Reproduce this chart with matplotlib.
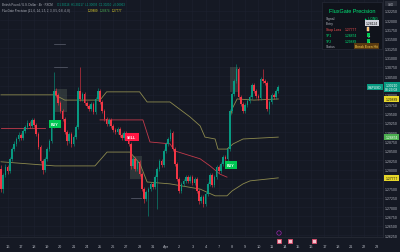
import matplotlib.pyplot as plt
from matplotlib.patches import Rectangle, Circle

plt.rcParams['font.family'] = ['Liberation Sans', 'DejaVu Sans']

BG = '#151924'
UP = '#089981'
DOWN = '#f23645'
OLIVE = '#8d8a4e'
RED_LINE = '#c23a4b'
TXT = '#b2b5be'

# GBPUSD 4h candles
closes = [
    1.2748, 1.2786, 1.2807, 1.2796, 1.2829, 1.2855, 1.2869, 1.2882, 1.2893, 1.2885,
    1.2903, 1.2914, 1.2925, 1.2917, 1.2933, 1.2920, 1.2895, 1.2861, 1.2823, 1.2799,
    1.2829, 1.2855, 1.2877, 1.2917, 1.3010, 1.3000, 1.2978, 1.2957, 1.2936, 1.2901,
    1.2877, 1.2895, 1.2869, 1.2887, 1.2914, 1.3010, 1.2989, 1.3002, 1.2978, 1.2970,
    1.2962, 1.2976, 1.2954, 1.2989, 1.3010, 1.2981, 1.2957, 1.2936, 1.2922, 1.2933,
    1.2917, 1.2906, 1.2901, 1.2909, 1.2893, 1.2885, 1.2898, 1.2887, 1.2869, 1.2810,
    1.2829, 1.2802, 1.2821, 1.2788, 1.2748, 1.2722, 1.2740, 1.2748, 1.2762, 1.2754,
    1.2780, 1.2802, 1.2823, 1.2812, 1.2850, 1.2869, 1.2882, 1.2898, 1.2855, 1.2815,
    1.2775, 1.2743, 1.2762, 1.2770, 1.2780, 1.2770, 1.2780, 1.2764, 1.2775, 1.2743,
    1.2716, 1.2727, 1.2708, 1.2735, 1.2762, 1.2786, 1.2759, 1.2780, 1.2807, 1.2796,
    1.2815, 1.2834, 1.2829, 1.2855, 1.2957, 1.3002, 1.3037, 1.3069, 1.2994, 1.2976,
    1.2957, 1.2973, 1.2984, 1.2994, 1.3026, 1.3010, 1.2997, 1.2992, 1.3042, 1.3037,
    1.3032, 1.2962, 1.2981, 1.3000, 1.2994, 1.3010, 1.3021,
]
highs = [
    1.2812, 1.2791, 1.2815, 1.2812, 1.2834, 1.2861, 1.2877, 1.2887, 1.2901, 1.2898,
    1.2909, 1.2920, 1.2933, 1.2930, 1.2938, 1.2938, 1.2925, 1.2901, 1.2866, 1.2829,
    1.2834, 1.2861, 1.2882, 1.2922, 1.3061, 1.3018, 1.3005, 1.2984, 1.2962, 1.2941,
    1.2906, 1.2901, 1.2901, 1.2893, 1.2920, 1.3021, 1.3075, 1.3008, 1.3008, 1.2984,
    1.2976, 1.2981, 1.2981, 1.2994, 1.3018, 1.3016, 1.2986, 1.2962, 1.2941, 1.2938,
    1.2938, 1.2922, 1.2912, 1.2914, 1.2914, 1.2898, 1.2903, 1.2903, 1.2893, 1.2874,
    1.2834, 1.2834, 1.2826, 1.2826, 1.2794, 1.2754, 1.2746, 1.2754, 1.2767, 1.2767,
    1.2786, 1.2807, 1.2829, 1.2829, 1.2855, 1.2874, 1.2887, 1.2909, 1.2903, 1.2861,
    1.2821, 1.2780, 1.2767, 1.2775, 1.2786, 1.2786, 1.2786, 1.2786, 1.2780, 1.2780,
    1.2748, 1.2732, 1.2732, 1.2740, 1.2767, 1.2791, 1.2791, 1.2786, 1.2812, 1.2812,
    1.2821, 1.2839, 1.2839, 1.2861, 1.2962, 1.3008, 1.3042, 1.3083, 1.3075, 1.3000,
    1.2981, 1.2978, 1.2989, 1.3000, 1.3032, 1.3032, 1.3016, 1.3002, 1.3048, 1.3069,
    1.3042, 1.3037, 1.2986, 1.3005, 1.3005, 1.3016, 1.3026,
]
lows = [
    1.2740, 1.2738, 1.2780, 1.2788, 1.2791, 1.2823, 1.2850, 1.2863, 1.2877, 1.2879,
    1.2879, 1.2898, 1.2909, 1.2912, 1.2912, 1.2914, 1.2890, 1.2855, 1.2818, 1.2788,
    1.2794, 1.2823, 1.2850, 1.2871, 1.2912, 1.2994, 1.2973, 1.2952, 1.2930, 1.2895,
    1.2866, 1.2871, 1.2861, 1.2863, 1.2882, 1.2909, 1.2984, 1.2984, 1.2973, 1.2965,
    1.2957, 1.2957, 1.2949, 1.2949, 1.2984, 1.2976, 1.2952, 1.2930, 1.2917, 1.2917,
    1.2912, 1.2901, 1.2895, 1.2895, 1.2887, 1.2879, 1.2879, 1.2882, 1.2863, 1.2802,
    1.2804, 1.2796, 1.2796, 1.2783, 1.2743, 1.2711, 1.2716, 1.2676, 1.2743, 1.2748,
    1.2748, 1.2695, 1.2796, 1.2807, 1.2807, 1.2845, 1.2863, 1.2877, 1.2850, 1.2810,
    1.2770, 1.2738, 1.2738, 1.2756, 1.2764, 1.2764, 1.2764, 1.2759, 1.2759, 1.2738,
    1.2708, 1.2711, 1.2700, 1.2703, 1.2730, 1.2756, 1.2754, 1.2754, 1.2775, 1.2791,
    1.2791, 1.2810, 1.2823, 1.2823, 1.2850, 1.2952, 1.2997, 1.3032, 1.2989, 1.2970,
    1.2952, 1.2952, 1.2968, 1.2978, 1.2989, 1.3005, 1.2992, 1.2986, 1.2986, 1.3032,
    1.3026, 1.2957, 1.2949, 1.2976, 1.2989, 1.2989, 1.3005,
]
first_open = 1.2802
opens = [first_open] + closes[:-1]

# FluxGate lines: (bar index, price) break points
upper_x = [0, 24.5, 29, 45, 48, 63, 66.4, 76.8, 85.9, 90.5, 92.7, 97.3, 98.6, 102.7, 105.5, 110, 126]
upper_y = [1.3000, 1.3000, 1.2986, 1.2986, 1.3008, 1.3008, 1.2981, 1.2981, 1.2941, 1.2917,
           1.2887, 1.2882, 1.2855, 1.2855, 1.2869, 1.2882, 1.2887]
trail_x = [104, 105, 107.3, 115, 126]
trail_y = [1.2934, 1.2962, 1.2989, 1.2986, 1.2989]
lower_x = [0, 24.5, 42.7, 48.2, 58.6, 63.2, 66.4, 76.8, 90.5, 97.3, 102.7, 105, 110, 113.2, 126]
lower_y = [1.2821, 1.2810, 1.2810, 1.2847, 1.2847, 1.2815, 1.2767, 1.2762, 1.2748, 1.2730,
           1.2730, 1.2743, 1.2762, 1.2770, 1.2778]
red1_x = [0, 20]
red1_y = [1.2912, 1.2912]
red2_x = [45, 64.5, 67.7, 76.8, 79, 90.5, 95, 99.5, 102.7]
red2_y = [1.2933, 1.2933, 1.2874, 1.2869, 1.2850, 1.2829, 1.2810, 1.2788, 1.2780]

signals = [(24.5, 1.2922, 'BUY', '#00c853'), (59.5, 1.2887, 'SELL', '#ff1744'),
           (104.5, 1.2812, 'BUY', '#00c853')]
trade_boxes = [(24, 30, 1.3016, 1.2954), (58.6, 64, 1.2837, 1.2775), (104, 107.5, 1.3075, 1.3008)]
target_marks = [(24, 29, 1.3136), (24, 30, 1.3075), (59, 63.5, 1.2724)]

day_labels = ['16', '17', '18', '19', '20', '21', '24', '25', '26', '27', '28', '31', 'Apr',
              '2', '3', '4', '7', '8', '9', '10', '11', '14', '15', '16', '17', '18', '21', '22', '23']
price_ticks = [1.26250 + 0.0025 * k for k in range(25)]

tp2, tp1, stop = 1.29889, 1.28874, 1.27777
entry = 1.28124

fig = plt.figure(figsize=(4, 2.53), dpi=100, facecolor=BG)
ax = fig.add_axes([0, 15 / 253, 383 / 400, 238 / 253], facecolor=BG)
ax.set_xlim(-0.45, 173.6)
ax.set_ylim(1.26199, 1.32563)

for s in ['top', 'left']:
    ax.spines[s].set_visible(False)
for s in ['right', 'bottom']:
    ax.spines[s].set_color('#2a2e39')
    ax.spines[s].set_linewidth(0.5)

# hide tick labels covered by the price tags
tag_prices = [closes[-1], tp2, tp1, stop]
tick_text = []
for p in price_ticks:
    near = any(abs(p - t) < 0.0011 for t in tag_prices)
    tick_text.append('' if near else '%.5f' % p)
ax.set_yticks(price_ticks)
ax.set_yticklabels(tick_text)
ax.yaxis.tick_right()
ax.tick_params(axis='y', length=0, pad=1.6, labelsize=2.5, labelcolor=TXT)
ax.set_xticks([3 + 6 * k for k in range(len(day_labels))])
ax.set_xticklabels(day_labels)
ax.tick_params(axis='x', length=0, pad=5.2, labelsize=2.8, labelcolor=TXT)
ax.grid(True, color='#1d2130', lw=0.4)
ax.set_axisbelow(True)

# trade boxes and targets
for x0, x1, top, bot in trade_boxes:
    ax.add_patch(Rectangle((x0, bot), x1 - x0, top - bot, fc='#5d6b5f', ec='none', alpha=0.35, zorder=1))
for x0, x1, p in target_marks:
    ax.plot([x0, x1], [p, p], color='#5d6170', lw=0.5, zorder=1)

# indicator lines
ax.plot(upper_x, upper_y, color=OLIVE, lw=0.6, zorder=2)
ax.plot(trail_x, trail_y, color=OLIVE, lw=0.6, zorder=2)
ax.plot(lower_x, lower_y, color=OLIVE, lw=0.6, zorder=2)
ax.plot(red1_x, red1_y, color=RED_LINE, lw=0.6, zorder=2)
ax.plot(red2_x, red2_y, color=RED_LINE, lw=0.6, zorder=2)

# candles
idx = list(range(len(closes)))
cols = [UP if c >= o else DOWN for o, c in zip(opens, closes)]
ax.vlines(idx, lows, highs, colors=cols, lw=0.4, zorder=3)
bottoms = [min(o, c) for o, c in zip(opens, closes)]
heights = [max(abs(c - o), 0.00008) for o, c in zip(opens, closes)]
ax.bar(idx, heights, bottom=bottoms, width=0.75, color=cols, lw=0, zorder=4)

# signal labels
for x, p, t, c in signals:
    ax.text(x, p, t, color='white', fontsize=2.6, fontweight='bold', ha='center', va='center', zorder=6,
            bbox=dict(boxstyle='square,pad=0.6', fc=c, ec='none'))

# price tags on the right axis
ytr = ax.get_yaxis_transform()
tags = [(closes[-1], '%.5f\n03:23:08' % closes[-1], UP, 'white'),
        (tp2, '%.5f' % tp2, '#e6d72a', '#111111'),
        (tp1, '%.5f' % tp1, '#4caf50', 'white'),
        (stop, '%.5f' % stop, '#e6d72a', '#111111')]
for p, t, fc, tc in tags:
    ax.text(1.006, p, t, transform=ytr, fontsize=2.4, color=tc, ha='left', va='center', clip_on=False,
            linespacing=1.0, zorder=7, bbox=dict(boxstyle='square,pad=0.3', fc=fc, ec='none'))
ax.text(0.997, closes[-1], 'GBPUSD', transform=ytr, fontsize=2.3, color='white', ha='right', va='center',
        zorder=7, bbox=dict(boxstyle='square,pad=0.3', fc=UP, ec='none'))

# overlay in pixel space for header, panel and event icons
ov = fig.add_axes([0, 0, 1, 1], zorder=5)
ov.set_xlim(0, 400)
ov.set_ylim(253, 0)
ov.axis('off')

ov.text(2, 4.5, 'British Pound / U.S. Dollar · 4h · FXCM', fontsize=2.1, color=TXT, va='center')
ov.text(57, 4.5, 'O1.30116  H1.30217  L1.30093  C1.30210  +0.00063', fontsize=2.1,
        color=UP, va='center')
ov.text(2, 10.5, 'FluxGate Precision (21, 6, 14, 1.5, 2, 3, 0.5, 0.8, 4, 8)', fontsize=2.1,
        color=TXT, va='center')
ov.text(88, 10.5, '%.5f' % tp2, fontsize=2.1, color='#e6d72a', va='center')
ov.text(100, 10.5, '%.5f' % tp1, fontsize=2.1, color='#4caf50', va='center')
ov.text(112, 10.5, '%.5f' % stop, fontsize=2.1, color='#e6d72a', va='center')

ov.add_patch(Rectangle((322, 3), 60, 47, fc='#10131b', ec='#262a36', lw=0.5))
ov.text(352, 11, 'FluxGate Precision', fontsize=4.0, color='#00e676', ha='center', va='center')
rows = [('Signal', TXT, '', TXT), ('Entry', TXT, '', TXT), ('Stop Loss', '#ff5252', '%.5f' % stop, '#ff5252'),
        ('TP1', '#00e676', '%.5f' % tp1, '#00e676'), ('TP2', '#00e676', '%.5f' % tp2, '#00e676'),
        ('Status', TXT, '', TXT)]
row_y = [18.5, 24, 30, 36, 41.7, 47.3]
for (lab, lc, val, vc), y in zip(rows, row_y):
    ov.text(326, y, lab, fontsize=2.4, color=lc, va='center')
    if val:
        ov.text(345, y, val, fontsize=2.4, color=vc, va='center')
ov.text(378, 18.5, '▲ LONG', fontsize=2.4, color='#00e676', ha='right', va='center')
ov.text(378, 24, '%.5f' % entry, fontsize=2.4, color='#111111', ha='right', va='center',
        bbox=dict(boxstyle='square,pad=0.2', fc='#d1d4dc', ec='none'))
ov.add_patch(Rectangle((367, 28.2), 2.4, 3.6, fc='#ffb74d', ec='white', lw=0.3))
for y in (36, 41.7):
    ov.add_patch(Rectangle((366.8, y - 1.8), 3.6, 3.6, fc='#00c853', ec='none'))
    ov.text(368.6, y, '✓', fontsize=2.4, color='white', ha='center', va='center')
ov.text(378, 47.3, 'Break Even Hit', fontsize=2.4, color='#ffd54f', ha='right', va='center',
        bbox=dict(boxstyle='square,pad=0.25', fc='#5a3a10', ec='none'))

ov.add_patch(Rectangle((385, 2), 12, 5, fc='#2a2e39', ec='none'))
ov.text(391, 4.5, 'USD', fontsize=2.1, color=TXT, ha='center', va='center')

ov.add_patch(Circle((279, 234), 2.2, fc='none', ec='#9c27b0', lw=0.5))
for x in (279, 290, 314):
    ov.add_patch(Rectangle((x - 2, 239.5), 4, 4, fc='#f3c5cf', ec='#e04a6a', lw=0.6))

fig.savefig('out.png', dpi=100, facecolor=BG)
